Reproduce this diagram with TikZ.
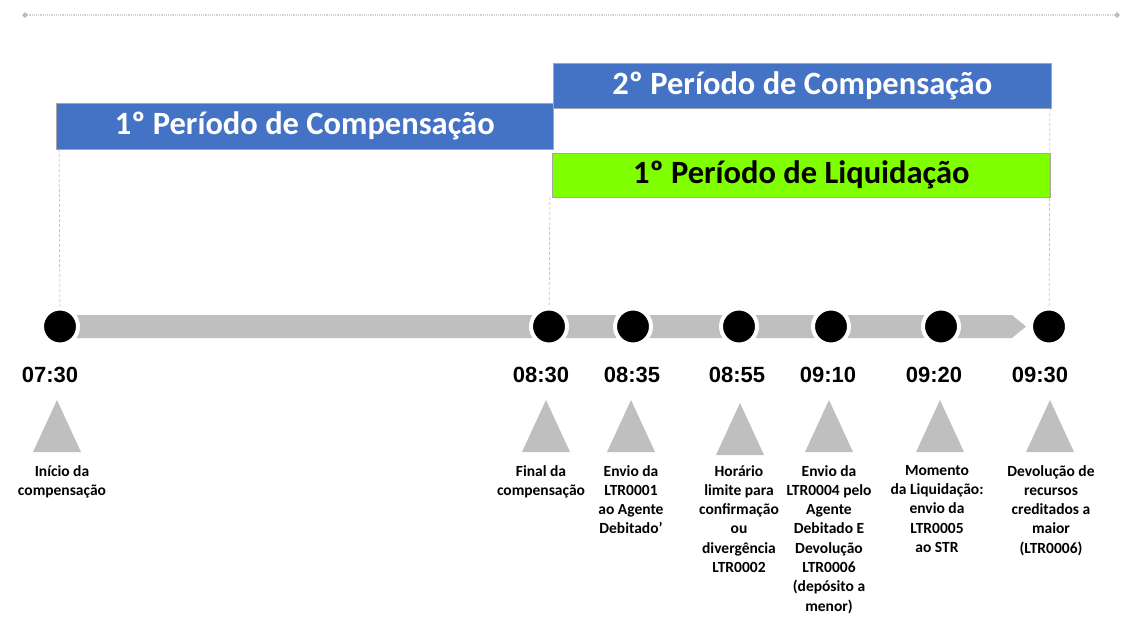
\documentclass[tikz,border=0pt]{standalone}
\usepackage{fontspec}
\setmainfont{Carlito}
\newfontfamily\arialfont{Liberation Sans}
\usetikzlibrary{shapes.geometric}
\definecolor{boxblue}{HTML}{4472C4}
\definecolor{lime}{HTML}{80FF00}
\definecolor{bargray}{HTML}{BFBFBF}
\definecolor{guide}{HTML}{A6A6A6}
\begin{document}
\begin{tikzpicture}[x=1pt,y=-1pt,
  period/.style={draw=guide,line width=0.6pt,minimum height=46pt,inner sep=0pt,font=\bfseries\fontsize{32.5}{36}\selectfont},
  dot/.style={circle,fill=black,draw=white,line width=4pt,minimum size=36pt,inner sep=0pt},
  tlabel/.style={font=\arialfont\bfseries\fontsize{22}{26}\selectfont},
  tri/.style={fill=bargray},
  desc/.style={anchor=north,align=center,inner sep=0pt,font=\bfseries\fontsize{15.5}{19.3}\selectfont},
  guideline/.style={draw=guide,densely dashed,line width=0.5pt}]
\useasboundingbox (0,0) rectangle (1121,622);
% top dotted rule
\coordinate (tl) at (25,15);
\coordinate (tr) at (1117,15);
\draw[draw=bargray!70,densely dotted,line width=1.2pt] (tl) -- (tr);
\fill[bargray] (tl) ++(-3,0) -- ++(3,-3) -- ++(3,3) -- ++(-3,3) -- cycle;
\fill[bargray] (tr) ++(-3,0) -- ++(3,-3) -- ++(3,3) -- ++(-3,3) -- cycle;
% period boxes
\node[period,fill=boxblue,text=white,minimum width=497pt,anchor=north west] (p1) at (56,103) {1º Período de Compensação};
\node[period,fill=boxblue,text=white,minimum width=498pt,anchor=north west,minimum height=45pt] (p2) at (553,63) {2º Período de Compensação};
\node[period,fill=lime,text=black,minimum width=498pt,anchor=north west,minimum height=44pt] (l1) at (552,153) {1º Período de Liquidação};
% bar
\fill[bargray] (60,315) -- (1012,315) -- (1026,326.5) -- (1012,338) -- (60,338) -- cycle;
% dots
\foreach \n/\x in {a/60,b/549,c/633,d/739,e/831,f/941,g/1049}{
  \node[dot] (\n) at (\x,326.5) {};
}
% guide lines
\coordinate (p1b) at (59,149);
\coordinate (l1b) at (550,197);
\coordinate (p2b) at (1050,108);
\draw[guideline] (p1b) -- (a.north);
\draw[guideline] (l1b) -- (b.north);
\draw[guideline] (p2b) -- (g.north);
% time labels
\node[tlabel] (ta) at (50,375) {07:30};
\node[tlabel] (tb) at (541,375) {08:30};
\node[tlabel] (tc) at (632,375) {08:35};
\node[tlabel] (td) at (737,375) {08:55};
\node[tlabel] (te) at (828,375) {09:10};
\node[tlabel] (tf) at (934,375) {09:20};
\node[tlabel] (tg) at (1040,375) {09:30};
% triangles
\foreach \x/\y in {57/400,546/400,631/400,740/403,829/400,940/400,1050/400}{
  \fill[tri] (\x,\y) -- (\x+24,\y+52) -- (\x-24,\y+52) -- cycle;
}
% descriptions
\node[desc] (da) at (62,465) {Início da\\compensação};
\node[desc] (db) at (541,465) {Final da\\compensação};
\node[desc] (dc) at (631,465) {Envio da\\LTR0001\\ao Agente\\Debitado’};
\node[desc] (dd) at (739,465) {Horário\\limite para\\confirmação\\ou\\divergência\\LTR0002};
\node[desc] (de) at (829,465) {Envio da\\LTR0004 pelo\\Agente\\Debitado E\\Devolução\\LTR0006\\(depósito a\\menor)};
\node[desc] (df) at (937,465) {Momento\\da Liquidação:\\envio da\\LTR0005\\ao STR};
\node[desc] (dg) at (1051,465) {Devolução de\\recursos\\creditados a\\maior\\(LTR0006)};
\end{tikzpicture}
\end{document}
